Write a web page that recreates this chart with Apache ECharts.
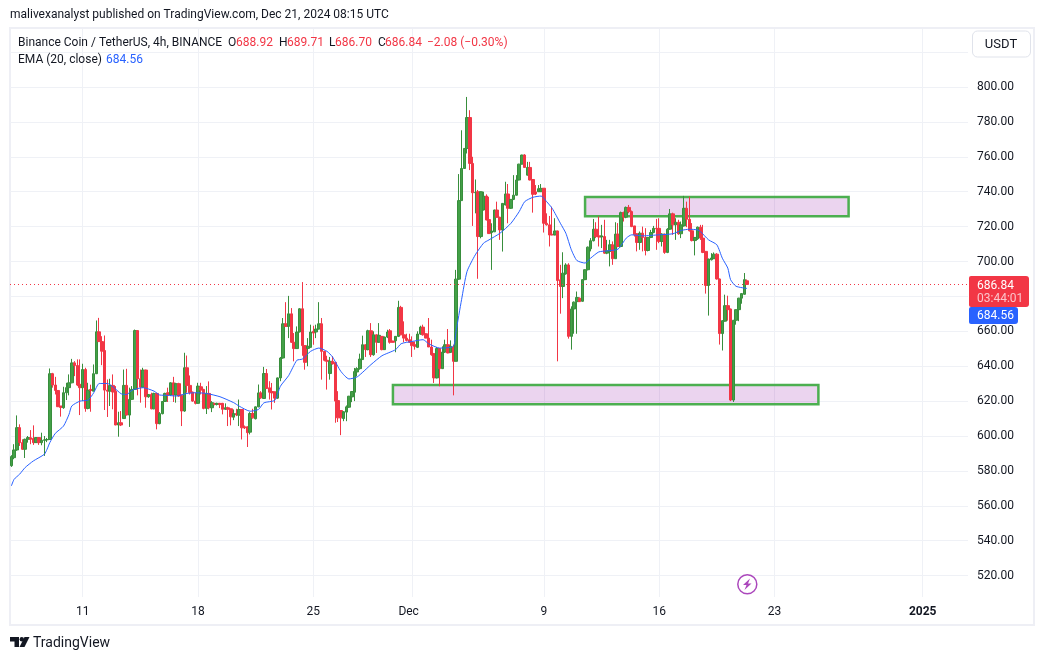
<!DOCTYPE html>
<html>
<head>
<meta charset="utf-8">
<title>BNBUSDT 4h</title>
<script src="https://cdn.jsdelivr.net/npm/echarts@6/dist/echarts.min.js"></script>
<style>
  html, body { margin: 0; padding: 0; background: #fff; }
  #chart { width: 1044px; height: 660px; }
</style>
</head>
<body>
<div id="chart"></div>
<script>
// open, close, low, high, one row per 4h candle
const candles = [
  [583.0,588.2,582.3,589.0],[587.6,592.0,586.7,595.3],[592.0,604.8,591.5,611.8],[604.8,596.2,594.3,606.7],[596.2,592.4,592.0,598.1],
  [592.4,598.1,587.4,598.5],[598.1,599.1,596.2,600.0],[599.0,598.1,595.3,603.4],[598.6,596.2,594.9,606.1],[596.2,599.1,596.0,599.4],
  [599.1,596.2,594.9,599.4],[596.2,597.5,594.7,601.9],[597.5,597.8,588.6,600.0],[597.8,598.0,596.5,598.9],[598.0,635.7,597.7,638.7],
  [635.7,629.2,627.7,636.2],[629.2,626.1,623.8,633.9],[626.1,616.8,616.6,626.2],[617.2,616.4,611.1,617.2],[616.2,624.8,615.6,628.2],
  [624.8,627.7,620.6,630.5],[627.7,630.5,623.3,635.3],[630.5,641.9,630.2,644.2],[641.9,640.4,634.3,642.9],[640.4,629.2,628.6,643.9],
  [629.6,627.7,612.0,643.9],[627.7,638.1,620.0,641.4],[638.1,615.8,613.9,639.1],[615.8,626.3,615.3,630.5],[626.7,626.1,613.9,629.4],
  [625.7,635.7,625.7,641.0],[635.7,659.7,635.5,666.2],[659.7,654.1,653.9,667.7],[654.1,648.6,640.6,657.2],[649.0,626.3,614.9,657.6],
  [626.3,625.7,610.9,632.4],[625.7,629.0,617.2,632.8],[629.0,625.2,615.3,635.3],[625.7,606.3,606.2,628.6],[606.3,607.6,599.6,613.9],
  [607.6,606.3,605.7,614.3],[610.0,629.0,609.8,638.1],[629.0,612.0,611.8,638.5],[612.0,621.0,605.2,627.7],[621.0,626.7,620.6,628.6],
  [626.7,660.4,626.5,661.0],[660.4,632.8,623.3,660.6],[632.8,628.0,619.1,638.1],[628.0,637.8,627.7,639.1],[637.8,622.5,616.2,638.0],
  [622.5,623.8,621.9,624.0],[623.8,615.6,615.3,624.8],[615.6,624.4,615.3,624.8],[624.4,607.1,603.8,624.8],[607.1,612.8,606.7,613.7],
  [612.8,619.8,612.4,620.0],[619.8,624.4,619.5,624.8],[624.8,623.5,619.5,627.7],[623.5,630.5,622.9,630.8],[630.5,623.5,619.5,633.9],
  [623.5,630.0,619.1,630.5],[630.0,622.9,622.5,630.5],[623.3,614.3,605.7,623.8],[614.3,639.1,613.9,647.7],[639.1,629.0,624.8,646.1],
  [629.0,624.8,623.8,634.7],[625.2,620.0,619.6,625.4],[620.0,618.7,618.1,624.8],[618.7,628.6,618.5,630.5],[628.2,626.3,623.8,630.5],
  [626.7,615.8,615.3,627.0],[615.8,624.4,612.6,628.6],[624.4,616.2,615.3,631.3],[616.2,619.1,613.7,620.0],[618.7,618.1,617.6,619.0],
  [618.1,618.7,617.5,619.1],[618.7,618.0,616.0,619.0],[618.7,615.3,612.4,619.0],[615.3,616.2,615.0,618.7],[616.2,615.3,605.7,616.8],
  [615.6,611.0,606.1,615.7],[610.8,612.9,609.1,615.2],[612.9,612.1,611.4,615.6],[611.9,615.2,605.7,620.9],[615.2,604.7,598.0,615.4],
  [605.3,604.7,604.0,606.0],[605.3,601.9,593.7,605.5],[602.2,612.9,600.9,613.7],[612.9,610.4,610.0,615.6],[609.9,616.7,609.5,616.9],
  [616.7,624.7,616.5,629.5],[624.7,621.9,621.3,625.7],[621.5,635.8,621.3,639.6],[635.8,627.2,627.0,638.4],[627.6,625.1,620.9,631.4],
  [625.5,624.7,615.2,630.4],[625.3,621.7,619.0,625.5],[621.7,633.3,621.3,633.5],[633.3,644.7,631.4,645.3],[644.7,664.3,644.3,667.6],
  [664.3,662.8,662.5,676.7],[662.8,670.0,656.1,680.3],[670.0,653.7,653.3,673.3],[653.7,650.1,642.8,659.0],[650.1,659.6,649.9,662.8],
  [659.6,672.9,659.4,673.3],[672.9,651.8,646.0,688.2],[651.8,642.2,638.0,652.0],[650.2,651.4,640.0,656.1],[650.8,659.6,650.6,663.8],
  [660.0,659.0,652.3,663.2],[659.6,661.3,656.1,663.8],[661.3,664.3,661.0,676.7],[664.3,648.5,632.3,667.6],[648.5,643.4,642.8,648.7],
  [643.4,642.8,626.6,646.0],[635.8,642.8,632.3,645.3],[642.8,641.3,641.0,645.7],[642.2,620.0,607.6,642.4],[620.3,610.4,608.0,625.7],
  [614.6,610.4,600.5,614.8],[610.0,613.9,608.5,614.2],[613.7,616.7,608.5,617.5],[616.5,622.8,616.1,623.0],[622.4,625.5,619.4,625.7],
  [625.1,636.9,620.0,639.0],[636.7,638.6,634.2,639.4],[638.6,644.1,638.0,647.2],[643.8,652.3,643.6,657.5],[652.3,649.5,645.3,652.5],
  [649.5,660.3,649.1,660.9],[660.3,646.6,645.3,664.7],[646.6,658.0,646.0,660.0],[658.0,653.7,647.6,658.2],[653.7,657.7,653.3,664.7],
  [657.1,649.5,649.1,657.3],[649.5,656.7,649.3,656.9],[656.7,659.6,656.1,660.9],[660.3,653.7,652.9,661.3],[654.4,653.7,653.5,654.6],
  [654.6,657.1,648.0,657.3],[657.1,673.7,656.7,677.5],[673.7,658.0,657.7,674.6],[658.0,656.1,653.7,665.7],[656.1,654.8,654.2,658.6],
  [655.2,653.7,653.3,658.6],[653.9,651.8,645.3,657.1],[652.3,651.4,649.5,654.2],[650.8,658.4,650.4,660.0],[658.4,662.4,658.0,663.2],
  [662.4,658.0,657.5,663.8],[658.6,656.1,656.0,658.8],[656.1,651.0,651.0,667.6],[651.0,646.6,646.0,655.2],[647.2,633.3,630.4,647.6],
  [633.3,650.1,633.0,651.0],[650.1,638.6,628.5,650.4],[638.6,648.1,638.4,651.4],[648.1,652.3,647.6,655.2],[652.3,647.6,647.4,661.3],
  [647.9,651.4,647.6,654.8],[651.0,642.8,623.3,652.3],[642.8,689.9,642.8,695.2],[689.9,734.9,689.5,750.1],[734.9,753.3,734.9,775.2],
  [753.3,764.8,753.3,764.9],[764.8,782.5,761.9,794.3],[782.5,756.2,752.4,786.7],[756.2,739.4,720.4,760.0],[739.4,739.6,727.6,747.0],
  [740.0,714.3,690.1,741.0],[714.3,740.0,713.3,740.2],[729.5,737.5,729.3,740.0],[737.5,723.8,723.6,738.5],[724.0,716.0,715.8,737.1],
  [716.6,717.5,695.2,721.9],[717.0,729.5,716.9,729.7],[729.5,725.3,725.1,734.3],[725.3,718.1,712.4,725.7],[718.1,733.3,705.7,733.5],
  [732.4,738.7,732.2,745.7],[738.7,730.5,721.9,744.4],[730.5,735.6,730.1,735.8],[735.6,738.0,735.2,749.5],[738.0,746.7,737.8,749.5],
  [746.7,755.8,746.5,756.0],[755.8,761.0,755.6,761.2],[761.0,753.9,753.7,761.5],[749.5,753.9,749.3,757.1],[753.9,746.7,746.5,757.1],
  [747.0,738.5,728.0,747.2],[739.9,738.7,738.1,743.8],[740.0,741.7,739.8,743.8],[740.0,741.9,739.8,744.4],[742.0,721.9,716.6,742.1],
  [721.9,721.0,720.6,727.6],[721.0,715.2,708.6,726.1],[715.6,715.2,715.0,731.4],[715.2,717.5,715.0,724.8],[717.5,689.1,642.8,717.7],
  [689.5,685.7,670.1,698.1],[685.7,693.3,679.0,705.3],[693.0,698.0,692.4,699.0],[698.0,657.1,655.8,699.0],[657.1,672.8,649.5,674.3],
  [672.8,676.7,658.6,677.1],[677.0,679.4,658.6,682.8],[679.0,677.0,676.8,679.4],[677.2,689.6,677.0,689.8],[689.6,695.3,689.3,695.5],
  [695.3,708.2,694.9,708.6],[707.3,711.9,705.8,713.4],[711.9,718.5,711.5,724.4],[718.5,714.3,713.4,722.5],[714.7,714.0,708.6,725.8],
  [714.0,714.7,707.7,721.0],[714.3,704.8,704.4,723.9],[704.8,706.1,704.2,712.4],[705.8,709.6,697.2,712.4],[709.6,701.6,698.1,711.5],
  [701.6,715.7,701.6,722.5],[715.7,708.6,708.2,722.0],[708.6,728.0,708.2,728.6],[728.0,725.4,722.9,728.6],[725.4,731.0,724.8,731.5],
  [731.0,728.6,727.7,732.4],[728.6,720.0,719.7,729.2],[720.4,715.3,714.3,720.4],[715.9,710.9,705.8,716.2],[710.9,716.2,706.7,717.2],
  [716.2,713.8,705.8,720.0],[713.8,706.3,703.5,719.1],[706.3,713.8,705.8,714.0],[713.8,716.6,713.4,718.1],[716.6,719.0,716.2,720.4],
  [719.0,718.7,706.7,724.4],[719.0,711.5,710.5,724.8],[711.5,715.7,708.6,716.2],[715.7,705.2,704.4,716.0],[705.2,718.5,704.8,719.1],
  [718.5,727.3,718.1,730.1],[727.3,721.0,715.3,728.0],[721.0,722.5,712.4,724.8],[722.5,715.9,715.3,723.9],[715.9,721.0,713.4,722.9],
  [720.4,730.5,720.0,737.6],[730.5,724.2,719.7,734.3],[724.2,717.6,717.2,737.2],[717.6,712.0,711.5,722.0],[712.0,713.8,703.5,714.0],
  [713.0,719.7,712.4,720.0],[719.7,713.4,712.4,721.0],[713.4,705.2,704.8,721.0],[705.8,686.3,681.6,706.0],[686.3,701.4,669.0,701.6],
  [701.0,702.0,700.6,704.8],[701.6,704.2,701.4,705.2],[704.2,690.0,689.6,704.8],[690.0,658.7,652.4,690.2],[658.7,666.1,649.0,666.3],
  [665.8,674.7,665.5,681.0],[674.7,672.4,666.1,680.4],[672.8,620.6,620.0,673.0],[620.6,666.3,619.5,666.5],[666.3,672.4,663.8,672.6],
  [672.4,679.0,665.8,679.2],[679.0,681.6,675.8,681.8],[681.2,689.6,681.0,693.4],[688.92,686.84,686.70,689.71]
]

// EMA (20) readings: candle number, value
const emaReadings = [
  [0,571.4],[1,575.2],[3,578.1],[5,581.9],[8,585.7],[12,589.5],[13,592.4],[14,596.2],[16,601.5],[19,605.7],
  [21,612.4],[22,617.2],[25,620.0],[28,620.6],[30,624.8],[32,630.1],[35,630.1],[37,628.2],[40,624.2],[42,623.8],
  [44,626.3],[48,627.7],[52,625.7],[54,623.5],[57,623.3],[60,622.9],[64,624.4],[67,624.8],[71,624.4],[76,622.5],
  [81,619.1],[83,617.1],[87,614.2],[90,615.2],[92,619.0],[96,620.5],[98,628.5],[101,634.6],[104,643.4],[106,644.1],
  [109,648.5],[112,650.4],[115,648.5],[117,645.3],[120,637.1],[123,632.7],[126,633.9],[131,640.9],[135,646.0],[140,649.5],
  [142,652.9],[146,654.2],[150,655.2],[152,652.9],[156,650.4],[161,651.4],[162,660.0],[164,678.1],[166,694.3],[169,703.8],
  [172,710.5],[174,712.4],[178,716.2],[182,721.9],[185,728.6],[187,734.3],[190,736.8],[193,737.5],[195,734.3],[197,730.5],
  [200,721.9],[202,716.2],[204,706.7],[206,700.6],[209,699.1],[211,701.9],[214,705.5],[217,706.1],[221,707.1],[224,713.4],
  [226,715.3],[230,714.7],[236,715.3],[241,715.9],[244,717.8],[247,718.5],[250,718.1],[251,717.2],[254,712.4],[257,709.6],
  [259,701.9],[261,696.2],[262,689.6],[264,685.8],[268,684.56]
]

const priceTicks = [520, 540, 560, 580, 600, 620, 640, 660, 680, 700, 720, 740, 760, 780, 800, 820]
const priceLabels = [520, 540, 560, 580, 600, 620, 640, 660, 680, 700, 720, 740, 760, 780, 800]
// candle number -> date label on the time scale
const timeTicks = { 26: '11', 68: '18', 110: '25', 146: 'Dec', 194: '9', 236: '16', 278: '23', 332: '2025' }
const lastClose = 686.84

// drawn zones: first candle, last candle, top price, bottom price
const zones = [
  [209, 305, 737.0, 726.0],
  [139, 294, 629.2, 618.2]
]

const slotCount = 349
const categories = []
const firstTime = Date.UTC(2024, 10, 6, 16)
for (let i = 0; i < slotCount; i++) {
  categories.push(new Date(firstTime + i * 4 * 3600 * 1000).toISOString().slice(0, 16))
}

const FONT = 'Roboto, sans-serif'
const INK = '#131722'
const RED = '#f23645'
const BLUE = '#2962ff'
const GRID = '#eff1f6'

function txt(text, x, y, fill, size, extra) {
  return {
    type: 'text', x: x, y: y + 1, z: 100, silent: true,
    style: Object.assign({ text: text, fill: fill || INK, font: (size || 12) + 'px ' + FONT, textVerticalAlign: 'middle' }, extra || {})
  }
}

const chart = echarts.init(document.getElementById('chart'))

chart.setOption({
  animation: false,
  backgroundColor: '#fff',
  grid: { left: 10, top: 29, width: 958, height: 568 },
  xAxis: {
    type: 'category',
    data: categories,
    boundaryGap: true,
    axisLine: { show: false },
    axisTick: { show: false, alignWithLabel: true, interval: (i) => timeTicks[i] !== undefined },
    splitLine: {
      show: true,
      alignWithLabel: true,
      interval: (i) => timeTicks[i] !== undefined,
      lineStyle: { color: GRID, width: 1 }
    },
    axisLabel: {
      interval: (i) => timeTicks[i] !== undefined,
      formatter: (v, i) => {
        const t = timeTicks[i]
        if (t === '2025') return '{b|2025}'
        if (t === 'Dec') return '{d|Dec}'
        return t
      },
      color: INK,
      fontSize: 12,
      fontFamily: FONT,
      margin: 9,
      rich: {
        b: { fontWeight: 'bold', fontSize: 12, color: INK, fontFamily: FONT },
        d: { fontSize: 12, color: INK, fontFamily: FONT, padding: [0, 7, 0, 0] }
      }
    }
  },
  yAxis: {
    type: 'value',
    position: 'right',
    min: 507.74,
    max: 833.24,
    scale: true,
    axisLine: { show: false },
    axisTick: { show: false, customValues: priceTicks },
    splitLine: { show: true, lineStyle: { color: GRID, width: 1 } },
    axisLabel: {
      customValues: priceLabels,
      formatter: (v) => v.toFixed(2),
      color: INK,
      fontSize: 12,
      fontFamily: FONT,
      margin: 9
    }
  },
  series: [
    {
      type: 'candlestick',
      data: candles,
      barWidth: 3,
      itemStyle: {
        color: '#43a047',
        color0: RED,
        borderColor: '#388e3c',
        borderColor0: RED,
        borderWidth: 1
      },
      markArea: {
        silent: true,
        itemStyle: {
          color: 'rgba(156,39,176,0.2)',
          borderColor: '#4caf50',
          borderWidth: 2.5
        },
        data: zones.map((z) => [
          { xAxis: z[0], yAxis: z[2] },
          { xAxis: z[1], yAxis: z[3] }
        ])
      },
      markLine: {
        silent: true,
        symbol: 'none',
        label: { show: false },
        lineStyle: { color: RED, type: [1, 3], width: 1 },
        data: [{ yAxis: lastClose }]
      }
    },
    {
      type: 'line',
      data: emaReadings,
      showSymbol: false,
      smooth: 0.2,
      lineStyle: { color: BLUE, width: 1 },
      z: 5
    }
  ],
  graphic: [
    // frame
    { type: 'rect', silent: true, z: -1, shape: { x: 10, y: 28, width: 1024, height: 597 }, style: { fill: 'none', stroke: '#eeeff5', lineWidth: 2 } },
    // header
    txt('malivexanalyst published on TradingView.com, Dec 21, 2024 08:15 UTC', 10, 14),
    txt('Binance Coin / TetherUS, 4h, BINANCE', 18, 42),
    txt('O', 228, 42), txt('688.92', 236, 42, RED),
    txt('H', 279, 42), txt('689.71', 287, 42, RED),
    txt('L', 329, 42), txt('686.70', 335, 42, RED),
    txt('C', 378, 42), txt('686.84', 385, 42, RED),
    txt('\u22122.08 (\u22120.30%)', 427, 42, RED),
    txt('EMA (20, close)', 18, 59),
    txt('684.56', 106, 59, BLUE),
    // currency button
    { type: 'rect', silent: true, z: 90, shape: { x: 972.5, y: 31, width: 58, height: 26, r: 5 }, style: { fill: '#fff', stroke: '#e0e3eb', lineWidth: 1 } },
    txt('USDT', 1001, 44, INK, 13, { textAlign: 'center' }),
    // last price tags
    { type: 'rect', silent: true, z: 90, shape: { x: 969, y: 276, width: 60, height: 31, r: [2, 3, 3, 2] }, style: { fill: RED } },
    txt('686.84', 977, 285, '#fff'),
    txt('03:44:01', 977, 298, '#fbc4ca'),
    { type: 'rect', silent: true, z: 90, shape: { x: 969, y: 307, width: 49, height: 17, r: [2, 3, 3, 2] }, style: { fill: BLUE } },
    txt('684.56', 977, 315, '#fff'),
    // lightning marker
    { type: 'circle', silent: true, z: 90, shape: { cx: 747.3, cy: 584.3, r: 9.5 }, style: { fill: '#fff', stroke: '#ab47bc', lineWidth: 1.5 } },
    { type: 'polygon', silent: true, z: 91, shape: { points: [[750, 578.5], [743, 585], [746.5, 585], [744.5, 590], [751.5, 583.5], [748, 583.5]] }, style: { fill: '#ab47bc' } },
    // footer logo
    { type: 'polygon', silent: true, z: 90, shape: { points: [[10, 637], [19, 637], [19, 647], [14.5, 647], [14.5, 641.5], [10, 641.5]] }, style: { fill: INK } },
    { type: 'circle', silent: true, z: 90, shape: { cx: 21.8, cy: 639.2, r: 2.2 }, style: { fill: INK } },
    { type: 'polygon', silent: true, z: 90, shape: { points: [[24.5, 637], [29.5, 637], [24.5, 647], [19.5, 647]] }, style: { fill: INK } },
    txt('TradingView', 33, 642, INK, 14)
  ]
})

window.addEventListener('resize', () => chart.resize())
</script>
</body>
</html>
